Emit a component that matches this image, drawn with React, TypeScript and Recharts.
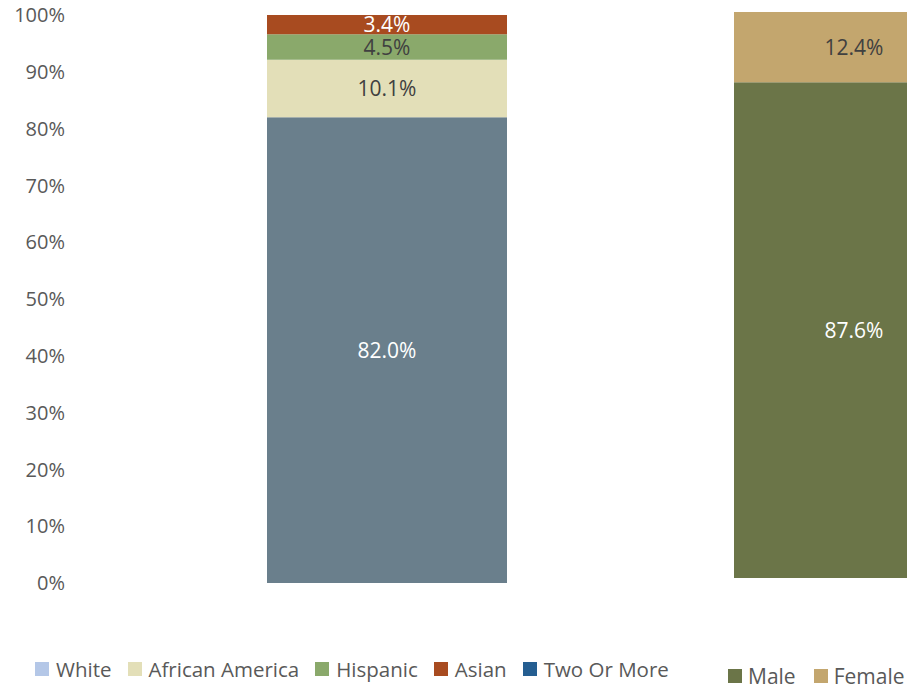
import React from 'react';
import { BarChart, Bar, XAxis, YAxis, LabelList, Legend } from 'recharts';

// race breakdown (left bar)
const raceKeys = ['white', 'african', 'hispanic', 'asian', 'twoOrMore'];
const raceNames = ['White', 'African America', 'Hispanic', 'Asian', 'Two Or More'];
const raceValues = [82.0, 10.1, 4.5, 3.4, 0];
const raceBarColors = ['#6A7F8C', '#E3DFB8', '#8AA96B', '#A84B20', '#255E91'];
const raceLegendColors = ['#B4C7E7', '#E3DFB8', '#8AA96B', '#A84B20', '#255E91'];
const raceLabelColors = ['#FFFFFF', '#404040', '#404040', '#FFFFFF', '#FFFFFF'];

// gender breakdown (right bar)
const genderKeys = ['male', 'female'];
const genderNames = ['Male', 'Female'];
const genderValues = [87.6, 12.4];
const genderColors = ['#6B7548', '#C3A66E'];
const genderLabelColors = ['#FFFFFF', '#404040'];

const yTicks = [0, 10, 20, 30, 40, 50, 60, 70, 80, 90, 100];

const FONT = '"Open Sans", "Noto Sans", sans-serif';
const TEXT = '#595959';

const raceRow: Record<string, number | string> = { name: 'race' };
raceKeys.forEach((k, i) => { raceRow[k] = raceValues[i]; });
const genderRow: Record<string, number | string> = { name: 'gender' };
genderKeys.forEach((k, i) => { genderRow[k] = genderValues[i]; });

const fmt = (v: unknown) => (Number(v) > 0 ? `${Number(v).toFixed(1)}%` : '');

function LegendRow({ names, colors, gap, inner, size }: { names: string[]; colors: string[]; gap: number; inner: number; size: number }) {
  return (
    <div style={{ display: 'flex', alignItems: 'center', fontFamily: FONT, fontSize: size, color: TEXT, whiteSpace: 'nowrap', lineHeight: '26px' }}>
      {names.map((n, i) => (
        <div key={n} style={{ display: 'flex', alignItems: 'center', marginRight: gap }}>
          <span style={{ width: 14, height: 14, background: colors[i], display: 'inline-block', marginRight: inner }} />
          <span>{n}</span>
        </div>
      ))}
    </div>
  );
}

export default function App() {
  return (
    <div style={{ position: 'absolute', left: 0, top: 0, width: 907, height: 689, overflow: 'hidden', background: '#fff' }}>
      <div style={{ position: 'absolute', left: 0, top: 0 }}>
        <BarChart width={907} height={689} data={[raceRow]} margin={{ top: 15, right: 206, bottom: 80, left: 0 }}>
          <XAxis dataKey="name" hide />
          <YAxis
            width={73}
            domain={[0, 100]}
            ticks={yTicks}
            tickFormatter={(v) => `${v}%`}
            axisLine={false}
            tickLine={false}
            tickSize={6}
            tickMargin={2}
            tick={{ fill: TEXT, fontSize: 20, fontFamily: FONT }}
          />
          {raceKeys.map((k, i) => (
            <Bar key={k} dataKey={k} name={raceNames[i]} stackId="r" fill={raceBarColors[i]} barSize={240} isAnimationActive={false}>
              <LabelList dataKey={k} position="center" formatter={fmt} fill={raceLabelColors[i]} fontSize={21} fontFamily={FONT} />
            </Bar>
          ))}
          <Legend
            content={() => <LegendRow names={raceNames} colors={raceLegendColors} gap={16} inner={7} size={20.5} />}
            wrapperStyle={{ position: 'absolute', left: 35, top: 656, width: 700 }}
          />
        </BarChart>
      </div>
      <div style={{ position: 'absolute', left: 0, top: 0 }}>
        <BarChart width={1100} height={689} data={[genderRow]} margin={{ top: 12, right: 92, bottom: 85, left: 700 }}>
          <XAxis dataKey="name" hide />
          <YAxis hide domain={[0, 100]} />
          {genderKeys.map((k, i) => (
            <Bar key={k} dataKey={k} name={genderNames[i]} stackId="g" fill={genderColors[i]} barSize={240} isAnimationActive={false}>
              <LabelList dataKey={k} position="center" formatter={fmt} fill={genderLabelColors[i]} fontSize={21} fontFamily={FONT} />
            </Bar>
          ))}
          <Legend
            content={() => <LegendRow names={genderNames} colors={genderColors} gap={18} inner={6} size={21} />}
            wrapperStyle={{ position: 'absolute', left: 728, top: 663, width: 300 }}
          />
        </BarChart>
      </div>
    </div>
  );
}
